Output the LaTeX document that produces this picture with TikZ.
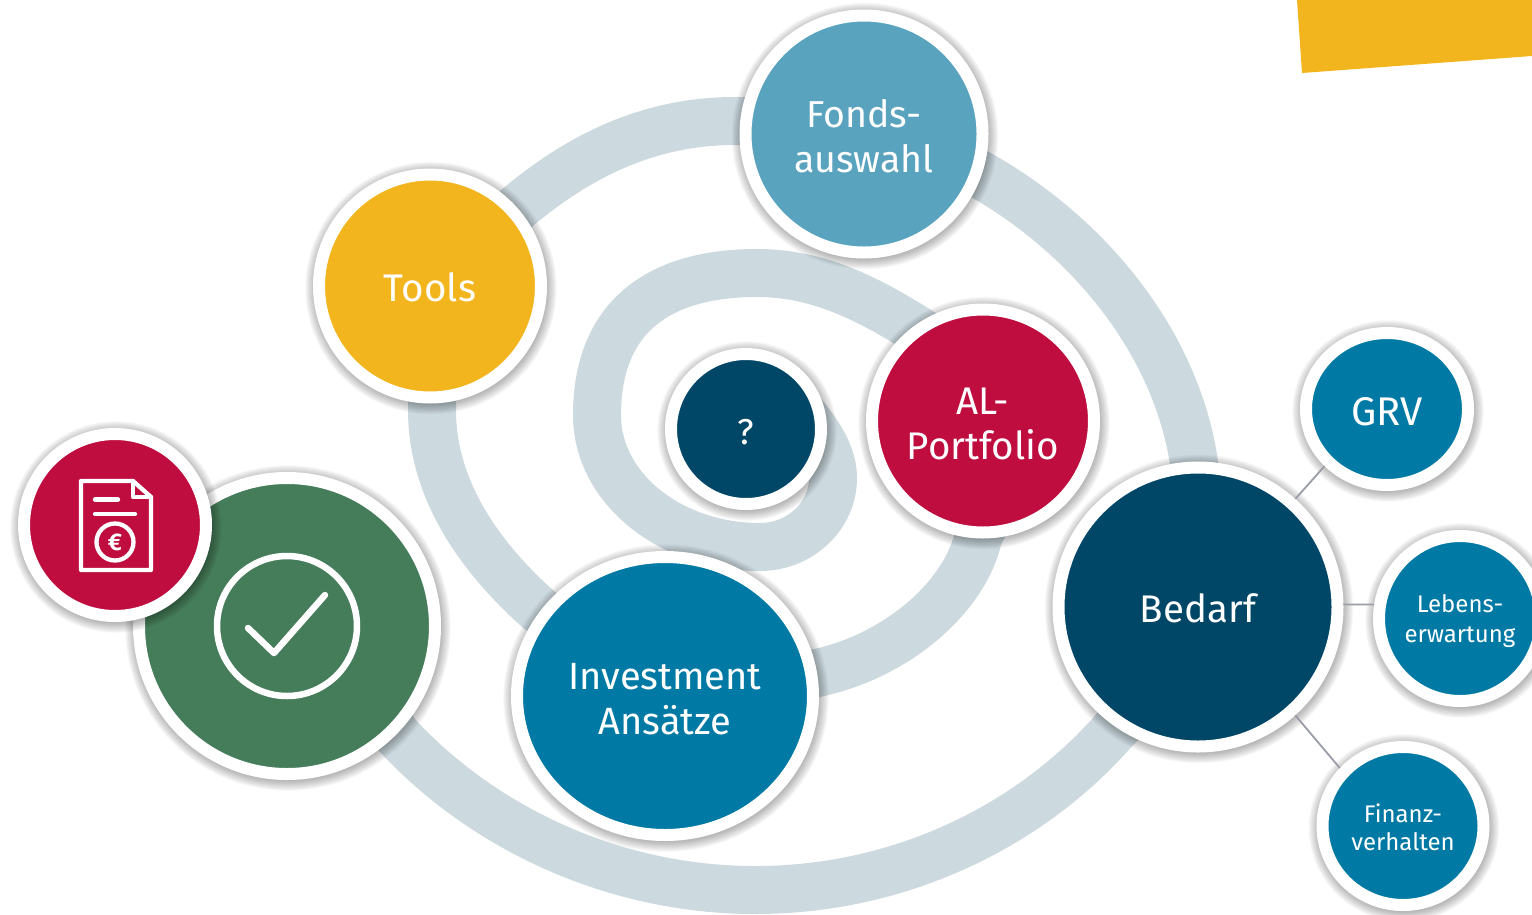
\documentclass[tikz,border=0pt]{standalone}
\usepackage{fontspec}
\setmainfont{Fira Sans}
\usetikzlibrary{shapes.geometric}
\definecolor{cteal}{HTML}{007AA5}
\definecolor{cdark}{HTML}{004767}
\definecolor{ccrim}{HTML}{BE0D3E}
\definecolor{cgreen}{HTML}{457D5A}
\definecolor{csky}{HTML}{5AA3BF}
\definecolor{cband}{HTML}{CCD9DF}
\definecolor{cyel}{HTML}{F2B51E}
\definecolor{clink}{HTML}{9A9CA8}
\tikzset{
  bubble/.style={ellipse,inner sep=0pt,outer sep=0pt,draw=white,line width=12pt,text=white,align=center},
  spiralband/.style={draw=cband,line width=48pt},
  linkline/.style={draw=clink,line width=1.8pt,shorten >=6pt,shorten <=6pt},
  iconline/.style={draw=white,line width=4.3pt,line join=round,line cap=round},
  checkline/.style={draw=white,line width=6.5pt,line join=round,line cap=round},
}
\newcommand{\tl}[1]{\rule{0pt}{#1pt}}
% name, cx, cy, rx, ry (fill radii), colour, font size, leading, text
\newcommand{\bub}[9]{%
  \foreach \k in {1,...,12}{\fill[black,opacity=0.028] (#2+1,#3+2) ellipse [x radius=#4+10+0.9*\k, y radius=#5+10+0.9*\k];}%
  \node[bubble,fill=#6,minimum width=2*#4pt+12pt,minimum height=2*#5pt+12pt,font=\fontsize{#7}{#8}\selectfont] (#1) at (#2,#3) {#9};%
}
\begin{document}
\begin{tikzpicture}[x=1pt,y=-1pt]
\useasboundingbox (0,0) rectangle (1532,914);
\fill[cyel] (1297,0) -- (1532,0) -- (1532,56) -- (1302,73) -- cycle;
\draw[spiralband] (795,405) .. controls (812,425) and (833,450) .. (833,478)
  .. controls (833,516) and (800,547) .. (760,547)
  .. controls (670,547) and (597,488) .. (597,415)
  .. controls (597,320) and (655,273) .. (757,273)
  .. controls (815,273) and (863,296) .. (913,327)
  .. controls (963,358) and (1012,390) .. (1012,440)
  .. controls (1012,475) and (995,500) .. (978,538)
  .. controls (965,595) and (900,655) .. (817,673)
  .. controls (740,695) and (600,660) .. (538,609)
  .. controls (480,557) and (432,490) .. (432,410)
  .. controls (432,330) and (470,250) .. (517,208)
  .. controls (580,155) and (650,121) .. (735,121)
  .. controls (825,121) and (905,135) .. (981,175)
  .. controls (1095,240) and (1180,350) .. (1195,470)
  .. controls (1210,590) and (1180,670) .. (1116,728)
  .. controls (1035,822) and (905,890) .. (755,890)
  .. controls (610,890) and (480,825) .. (397,735)
  -- (340,650);
\bub{fonds}{864}{134}{112.5}{112.5}{csky}{37.5}{45}{\tl{32}Fonds-\\auswahl}
\bub{tools}{430}{286}{105}{105.5}{cyel}{38.5}{45}{\tl{32}Tools}
\bub{quest}{746}{429}{69}{69}{cdark}{36}{38}{\tl{31}?}
\bub{alport}{983}{421}{105}{105.5}{ccrim}{38.5}{45}{\tl{32}AL-\\Portfolio}
\bub{green}{287}{626}{142}{142}{cgreen}{10}{12}{}
\draw[draw=white,line width=6.5pt] (green.center) circle [radius=70];
\coordinate (ck1) at (248,628); \coordinate (ck2) at (274,653); \coordinate (ck3) at (325,595);
\draw[checkline] (ck1) -- (ck2) -- (ck3);
\bub{iconb}{115}{525}{85}{85}{ccrim}{10}{12}{}
\draw[iconline] (133,481) -- (81,481) -- (81,570) -- (151,570) -- (151,497) -- cycle;
\draw[iconline] (133,481) -- (133,497) -- (151,497);
\draw[iconline] (95,499.5) -- (118,499.5);
\draw[iconline] (95,514) -- (135,514);
\node[circle,draw=white,line width=4.3pt,inner sep=0pt,outer sep=0pt,minimum size=37pt,text=white,font=\fontsize{24}{24}\selectfont\bfseries] (euro) at (115,542) {€};
\bub{invest}{665}{696}{142}{133}{cteal}{38}{45}{\tl{32}Investment\\Ansätze}
\bub{grv}{1387}{409}{75}{70}{cteal}{40}{45}{\tl{33}GRV}
\bub{lebens}{1460}{618.5}{75}{76.5}{cteal}{24}{30}{\tl{24}Lebens-\\erwartung}
\bub{finanz}{1403}{826}{74.5}{73}{cteal}{24}{28}{\tl{22}Finanz-\\verhalten}
\bub{bedarf}{1198}{607}{133.5}{133.5}{cdark}{38.5}{45}{\tl{32}Bedarf}
\draw[linkline] (bedarf.48) -- (grv.222);
\draw[linkline] (bedarf.1.6) -- (lebens.170);
\draw[linkline] (bedarf.-48.6) -- (finanz.138);
\end{tikzpicture}
\end{document}
